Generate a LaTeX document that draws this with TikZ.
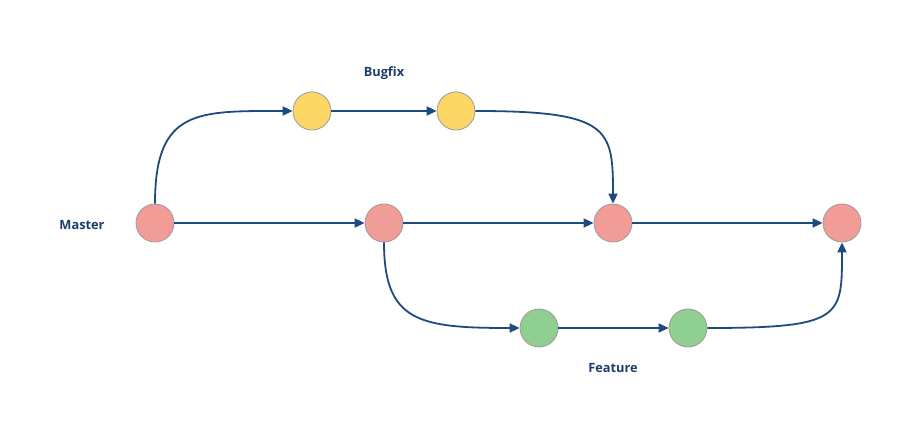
\documentclass[tikz,border=0pt]{standalone}
\usepackage{fontspec}
\setmainfont{Open Sans}
\usetikzlibrary{arrows.meta}
\definecolor{edgeblue}{HTML}{1F4A80}
\definecolor{labelblue}{HTML}{1F3D6B}
\definecolor{masterfill}{HTML}{F19C96}
\definecolor{bugfill}{HTML}{FDD766}
\definecolor{featfill}{HTML}{8FCF91}
\definecolor{ringgray}{HTML}{A09A98}
\tikzset{
  commit/.style={circle, draw=ringgray, line width=0.8pt, minimum size=38pt, inner sep=0pt},
  master/.style={commit, fill=masterfill},
  bugfix/.style={commit, fill=bugfill},
  feature/.style={commit, fill=featfill},
  flow/.style={draw=edgeblue, line width=1.8pt, -{Triangle[length=10pt,width=9pt]}},
  branchlabel/.style={font=\bfseries\fontsize{12.8}{15}\selectfont, text=labelblue}
}
\begin{document}
\begin{tikzpicture}[x=1pt,y=-1pt]
  \useasboundingbox (0,0) rectangle (899,435);
  % master line
  \node[master] (m1) at (155,223) {};
  \node[master] (m2) at (384,223) {};
  \node[master] (m3) at (613,223) {};
  \node[master] (m4) at (842,223) {};
  % bugfix branch
  \node[bugfix] (b1) at (312,111) {};
  \node[bugfix] (b2) at (456,111) {};
  % feature branch
  \node[feature] (f1) at (539,328) {};
  \node[feature] (f2) at (688,328) {};
  % labels
  \node[branchlabel] (lm) at (82,225) {Master};
  \node[branchlabel] (lb) at (384,73) {Bugfix};
  \node[branchlabel] (lf) at (613,368) {Feature};
  % straight commits
  \draw[flow] (m1) -- (m2);
  \draw[flow] (m2) -- (m3);
  \draw[flow] (m3) -- (m4);
  \draw[flow] (b1) -- (b2);
  \draw[flow] (f1) -- (f2);
  % branch and merge curves
  \draw[flow] (m1.north) .. controls +(0,-95) and +(-95,0) .. (b1.west);
  \draw[flow] (b2.east) .. controls +(135,0) and +(0,-75) .. (m3.north);
  \draw[flow] (m2.south) .. controls +(0,80) and +(-100,0) .. (f1.west);
  \draw[flow] (f2.east) .. controls +(135,0) and +(0,75) .. (m4.south);
\end{tikzpicture}
\end{document}
